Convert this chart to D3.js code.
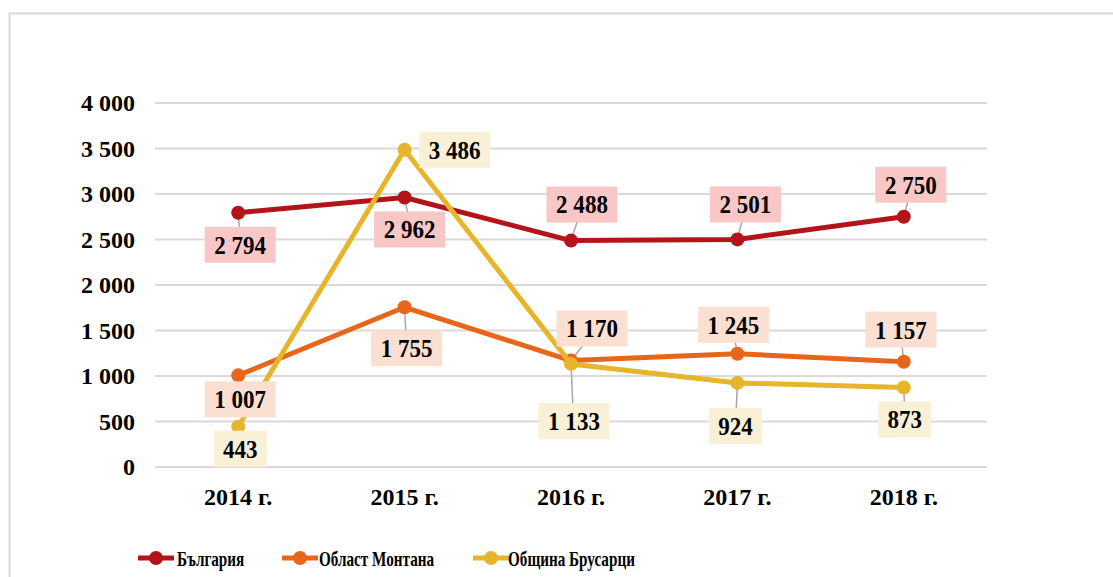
<!DOCTYPE html>
<html>
<head>
<meta charset="utf-8">
<script src="https://cdn.jsdelivr.net/npm/d3@7"></script>
<style>
  body { margin: 0; background: #fff; }
  svg text { font-family: "Liberation Serif", "Times New Roman", serif; font-weight: bold; fill: #000; }
</style>
</head>
<body>
<div id="chart"></div>
<script>
// chart data
const years = ["2014 г.", "2015 г.", "2016 г.", "2017 г.", "2018 г."];
const seriesNames = ["България", "Област Монтана", "Община Брусарци"];
const bulgaria = [2794, 2962, 2488, 2501, 2750];
const montana = [1007, 1755, 1170, 1245, 1157];
const brusartsi = [443, 3486, 1133, 924, 873];
const yTicks = [0, 500, 1000, 1500, 2000, 2500, 3000, 3500, 4000];

// label offsets relative to the point (px), as placed in the original
const labelOffsets = [
    [[2, 32], [5, 32], [11, -36], [8, -35], [7, -32]],
    [[2, 24], [2, 41], [21, -32], [-4, -29], [-3, -32]],
    [[2, 22], [50, 0], [3, 57], [-2, 43], [1, 32]]
];

const colors = ["#b3141a", "#e8661a", "#e6b52c"];
const boxFill = ["#f8c7c6", "#fbdfd1", "#faf0d6"];

const width = 1113, height = 577;
const margin = { top: 103, right: 126, bottom: 110, left: 155 };

const svg = d3.select("#chart").append("svg")
    .attr("width", width)
    .attr("height", height);

// outer frame (only top and left edges visible)
svg.append("path")
    .attr("d", `M9.5,${height} L9.5,13.5 L${width},13.5`)
    .attr("fill", "none")
    .attr("stroke", "#d9d9d9")
    .attr("stroke-width", 2);

const x = d3.scaleBand()
    .domain(years)
    .range([margin.left, width - margin.right])
    .padding(0);

const y = d3.scaleLinear()
    .domain([0, 4000])
    .range([height - margin.bottom, margin.top]);

const cx = d => x(d) + x.bandwidth() / 2;

// gridlines
svg.append("g")
    .selectAll("line")
    .data(yTicks)
    .enter().append("line")
    .attr("x1", margin.left)
    .attr("x2", width - margin.right)
    .attr("y1", d => y(d))
    .attr("y2", d => y(d))
    .attr("stroke", "#d9d9d9")
    .attr("stroke-width", 2);

const fmt = v => d3.format(",")(v).replace(/,/g, " ");

// Y axis labels
const yAxis = svg.append("g")
    .attr("transform", `translate(${margin.left - 20},0)`)
    .call(d3.axisLeft(y).tickValues(yTicks).tickSize(0).tickPadding(0).tickFormat(fmt));
yAxis.select(".domain").remove();
yAxis.selectAll("text")
    .style("font-size", "24px")
    .style("font-family", "Liberation Serif")
    .style("font-weight", "bold")
    .attr("fill", "#000");

// X axis labels
const xAxis = svg.append("g")
    .attr("transform", `translate(0,${height - margin.bottom + 19})`)
    .call(d3.axisBottom(x).tickSize(0).tickPadding(0));
xAxis.select(".domain").remove();
xAxis.selectAll("text")
    .style("font-size", "24px")
    .style("font-family", "Liberation Serif")
    .style("font-weight", "bold")
    .attr("fill", "#000")
    .attr("dy", "0.8em");

const allSeries = [bulgaria, montana, brusartsi];

const line = d3.line()
    .x((d, i) => cx(years[i]))
    .y(d => y(d));

// leader lines (under the series)
allSeries.forEach((vals, s) => {
    svg.append("g")
        .selectAll("line")
        .data(vals)
        .enter().append("line")
        .attr("x1", (d, i) => cx(years[i]))
        .attr("y1", d => y(d))
        .attr("x2", (d, i) => cx(years[i]) + labelOffsets[s][i][0] * 0.6)
        .attr("y2", (d, i) => y(d) + labelOffsets[s][i][1] - Math.sign(labelOffsets[s][i][1]) * 16)
        .attr("stroke", (d, i) => Math.abs(labelOffsets[s][i][1]) > 20 ? "#a6a6a6" : "none")
        .attr("stroke-width", 1.5);
});

// series lines and markers
allSeries.forEach((vals, s) => {
    svg.append("path")
        .datum(vals)
        .attr("d", line)
        .attr("fill", "none")
        .attr("stroke", colors[s])
        .attr("stroke-width", 5)
        .attr("stroke-linejoin", "round");
    svg.append("g")
        .selectAll("circle")
        .data(vals)
        .enter().append("circle")
        .attr("cx", (d, i) => cx(years[i]))
        .attr("cy", d => y(d))
        .attr("r", 7)
        .attr("fill", colors[s]);
});

// data labels
allSeries.forEach((vals, s) => {
    const g = svg.append("g")
        .selectAll("g")
        .data(vals)
        .enter().append("g")
        .attr("transform", (d, i) => `translate(${cx(years[i]) + labelOffsets[s][i][0]},${y(d) + labelOffsets[s][i][1]})`);
    g.append("rect")
        .attr("x", d => d >= 1000 ? -35.5 : -26.5)
        .attr("y", -18)
        .attr("width", d => d >= 1000 ? 71 : 53)
        .attr("height", 36)
        .attr("fill", boxFill[s]);
    g.append("text")
        .attr("text-anchor", "middle")
        .attr("dy", "0.35em")
        .attr("transform", "scale(0.96,1.05)")
        .style("font-size", "24px")
        .text(d => fmt(d));
});

// legend
const legendX = [138, 282, 473];
const legend = svg.append("g")
    .selectAll("g")
    .data(seriesNames)
    .enter().append("g")
    .attr("transform", (d, i) => `translate(${legendX[i]},558)`);
legend.append("line")
    .attr("x1", 0).attr("x2", 36)
    .attr("stroke", (d, i) => colors[i])
    .attr("stroke-width", 5);
legend.append("circle")
    .attr("cx", 18)
    .attr("r", 7)
    .attr("fill", (d, i) => colors[i]);
legend.append("text")
    .attr("transform", (d, i) => `translate(${[39, 37, 35][i]},0) scale(0.69,1)`)
    .attr("dy", "0.35em")
    .style("font-size", "22px")
    .text(d => d);
</script>
</body>
</html>
